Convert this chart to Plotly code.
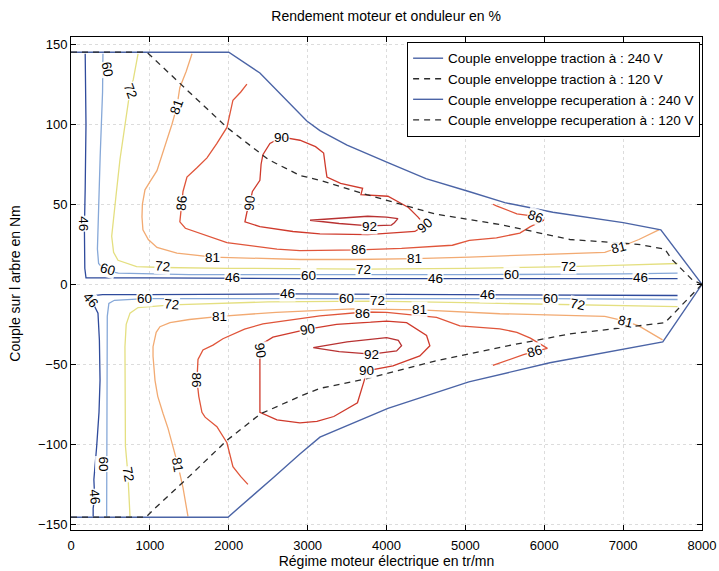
import plotly.graph_objects as go

# ---------------- text ----------------
TITLE = "Rendement moteur et onduleur en %"
X_TITLE = "Régime moteur électrique en tr/mn"
Y_TITLE = "Couple sur l arbre en Nm"
X_TICKS = [0, 1000, 2000, 3000, 4000, 5000, 6000, 7000, 8000]
Y_TICKS = [-150, -100, -50, 0, 50, 100, 150]

# ---------------- envelopes (rpm, Nm) ----------------
env_trac240_rpm = [0, 2000, 2395, 2814, 2990, 3156, 3500, 4018, 4500, 5044, 5500, 6109, 7000, 7478, 8000]
env_trac240_nm = [145, 145, 132, 111, 102, 96, 87, 76, 66, 58, 51, 45, 38.5, 34, 0]

env_trac120_rpm = [0, 963, 1500, 1977, 2500, 2902, 3156, 3750, 4613, 5475, 6324, 7186, 7530, 7617, 7883, 8000]
env_trac120_nm = [145, 145, 120, 98, 78, 68, 65, 56, 44, 37, 28, 25, 22, 15.6, 2.5, 0]

env_recup240_rpm = [0, 1990, 2560, 2902, 3156, 4018, 5044, 6071, 7503, 8000]
env_recup240_nm = [-145.5, -145.5, -121, -106, -95.5, -77.5, -61, -49, -36, 0]

env_recup120_rpm = [0, 950, 1040, 1500, 1977, 2400, 2902, 3156, 3750, 4613, 5475, 6324, 7186, 7530, 7744, 8000]
env_recup120_nm = [-145.5, -145.5, -141, -120, -97.5, -81, -70, -65, -59, -48, -39, -31, -26, -24, -13, 0]

# ---------------- iso-efficiency lines, traction side ----------------
iso46_t_rpm = [180, 190, 180, 170, 175, 190, 1000, 3000, 5000, 7690]
iso46_t_nm = [144, 100, 60, 35, 10, 4, 4, 3.5, 3.5, 3.5]

iso60_t_rpm = [405, 400, 370, 345, 335, 350, 420, 600, 1500, 3000, 5000, 7000, 7690]
iso60_t_nm = [144, 120, 80, 40, 22, 13, 9, 7, 6, 6, 6, 6.5, 7]

iso72_t_rpm = [850, 790, 748, 690, 621, 570, 535, 516, 540, 596, 832, 1166, 2000, 3714, 5000, 6312, 7000, 7690]
iso72_t_nm = [144, 128, 121, 100, 78, 55, 40, 30, 20, 15, 11, 10.5, 10, 9.5, 10, 11, 12, 13]

iso81_t_rpm = [1534, 1460, 1380, 1343, 1280, 1217, 1150, 1090, 1000, 938, 905, 900, 912, 980, 1090, 1343,
               1800, 2400, 2902, 3600, 4360, 5051, 6000, 6768, 6945, 7200, 7452]
iso81_t_nm = [144, 133, 123, 111, 100, 90, 80, 71, 64, 59, 50, 42, 34, 28, 23, 19.5,
              17, 16, 15.5, 15.5, 16, 17, 18.5, 20, 23, 28, 34]

iso86_t_rpm = [2230, 2150, 2053, 2010, 1977, 1850, 1724, 1600, 1470, 1420, 1407, 1390, 1380, 1450, 1635, 1977,
               2611, 2902, 3650, 4191, 4835, 5051, 5394, 5691, 5824, 5995, 5888, 5653, 5394, 5349]
iso86_t_nm = [125, 120, 115, 105, 98, 88, 79, 73, 67, 58, 51, 44, 39, 35, 32, 26,
              22, 21, 21.5, 22.5, 24.4, 27.5, 29, 32, 36, 40, 42.5, 44, 49, 50]

iso90_t_rpm = [2674, 2800, 2902, 3100, 3203, 3230, 3245, 3418, 3697, 3676, 4018, 4278, 4400, 4487, 4360, 3762,
               3156, 2814, 2395, 2205, 2230, 2269, 2300, 2395, 2410, 2433, 2522, 2674]
iso90_t_nm = [92, 91, 90, 86, 82, 72, 67, 63, 60, 56, 55, 48, 42, 37, 33, 31,
              31.5, 33, 36, 39, 45, 51, 58, 65, 75, 81, 88, 92]

iso92_t_rpm = [3030, 3400, 3762, 4000, 4145, 4100, 4062, 3783, 3400, 3030]
iso92_t_nm = [40, 41.5, 42.5, 42, 41, 38.5, 37, 36.5, 38, 40]

# ---------------- iso-efficiency lines, recuperation side ----------------
iso46_r_rpm = [281, 281, 300, 290, 326, 355, 368, 360, 342, 270, 241, 280, 400, 1000, 2750, 5285, 7690]
iso46_r_nm = [-145, -140, -133, -122, -101, -80, -60, -35, -18, -11, -9.7, -7, -6.5, -6.5, -6, -6.5, -7]

iso60_r_rpm = [452, 452, 455, 460, 480, 550, 938, 3494, 6081, 7690]
iso60_r_nm = [-145, -112, -60, -20, -12, -10, -9, -8.9, -9, -9.5]

iso72_r_rpm = [748, 722, 690, 684, 684, 700, 748, 850, 1276, 2500, 3830, 5000, 6426, 7690]
iso72_r_nm = [-145, -119, -101, -60, -39, -25, -18, -14.5, -12.8, -11, -10.5, -11.5, -12.8, -14]

iso81_r_rpm = [1483, 1420, 1356, 1293, 1230, 1166, 1100, 1065, 1040, 1040, 1080, 1128, 1255, 1500, 1888,
               2600, 3574, 4423, 5437, 6768, 7027, 7199, 7500]
iso81_r_nm = [-145, -127, -113, -101.6, -90, -80.6, -70, -60, -45, -39, -30, -26.5, -24, -22, -20,
              -17.5, -15.3, -16, -18.4, -20, -23, -26, -34.7]

iso86_r_rpm = [2243, 2150, 2053, 2010, 1977, 1850, 1700, 1660, 1620, 1597, 1610, 1673, 1800, 1926, 2200,
               2433, 3156, 3726, 4001, 4635, 4930, 5437, 5653, 5824, 6040, 5870, 5737, 5349]
iso86_r_nm = [-125, -120, -114, -105, -99, -89, -83, -80, -70, -60, -47, -41, -38, -34, -28,
              -24.7, -19.7, -17.3, -17.6, -20.7, -26, -27.8, -30, -33.6, -40, -42, -44, -50.6]

iso90_r_rpm = [3004, 3367, 4001, 4255, 4508, 4550, 4423, 4081, 3748, 3718, 3632, 3332, 3118, 2902, 2611,
               2395, 2395, 2395, 2395, 2430, 2560, 3004]
iso90_r_nm = [-28, -25, -23, -24, -32, -38.4, -44.7, -51, -54, -60, -74, -82.6, -85.7, -86.6, -84.7,
              -80, -60, -49, -41.6, -37, -33, -28]

iso92_r_rpm = [3071, 3500, 4001, 4150, 4191, 4128, 3811, 3400, 3071]
iso92_r_nm = [-39.5, -36, -33.3, -35, -38.4, -41.6, -43.6, -42, -39.5]

# ---------------- contour labels ----------------
label_text = ["46", "60", "72", "81", "86", "90", "90", "60", "72", "81", "46", "60", "92", "90", "86",
              "81", "72", "46", "60", "72", "86", "81", "46",
              "46", "60", "72", "81", "46", "60", "72", "86", "81", "90", "90", "92", "90", "46",
              "60", "72", "81", "86", "86", "60", "72", "81", "46"]
label_rpm = [156, 456, 750, 1343, 1407, 2269, 2674, 469, 1166, 1800, 2053, 3010, 3783, 4487, 3650,
             4360, 3714, 4621, 5590, 6312, 5888, 6945, 7220,
             241, 938, 1276, 1888, 2750, 3494, 3880, 3700, 4423, 3004, 2395, 3811, 3748, 5285,
             6081, 6426, 7027, 5870, 1597, 406, 722, 1356, 304]
label_nm = [38, 134, 121, 111, 51, 51, 92, 9, 11, 17, 4, 5.5, 36, 37, 22,
            16, 9.5, 3.5, 6, 11, 42.5, 23, 4,
            -9.7, -9, -12.8, -20, -6, -8.9, -10, -18.5, -16, -28, -41.6, -43.6, -54, -6.5,
            -9, -12.8, -23, -42, -60, -112, -119, -113, -133]
label_angle = [90, 80, 70, -70, -85, -85, 0, 15, 5, 0, 0, 0, 0, -40, 0,
               0, 0, 0, 0, 0, 20, -15, 0,
               50, 0, 5, 0, 0, 0, 0, 0, 0, -10, 80, 0, 0, 0,
               0, 10, 15, -15, 90, 90, 80, 80, 85]

LEVEL_COLORS = {"46": "#2f4b9c", "60": "#86a8d8", "72": "#e4df80", "81": "#f2aa72",
                "86": "#e0553a", "90": "#cf3a2c", "92": "#b83232"}

contours = [
    ("46", iso46_t_rpm, iso46_t_nm), ("46", iso46_r_rpm, iso46_r_nm),
    ("60", iso60_t_rpm, iso60_t_nm), ("60", iso60_r_rpm, iso60_r_nm),
    ("72", iso72_t_rpm, iso72_t_nm), ("72", iso72_r_rpm, iso72_r_nm),
    ("81", iso81_t_rpm, iso81_t_nm), ("81", iso81_r_rpm, iso81_r_nm),
    ("86", iso86_t_rpm, iso86_t_nm), ("86", iso86_r_rpm, iso86_r_nm),
    ("90", iso90_t_rpm, iso90_t_nm), ("90", iso90_r_rpm, iso90_r_nm),
    ("92", iso92_t_rpm, iso92_t_nm), ("92", iso92_r_rpm, iso92_r_nm),
]

FONT = "Liberation Sans, Arial, Helvetica, sans-serif"
ENV_BLUE = "#4b64a6"
DASH_COL = "#2b2b2b"

fig = go.Figure()
for lvl, xs, ys in contours:
    fig.add_trace(go.Scatter(x=xs, y=ys, mode="lines", showlegend=False, hoverinfo="skip",
                             line=dict(color=LEVEL_COLORS[lvl], width=1.3)))

fig.add_trace(go.Scatter(x=env_trac240_rpm, y=env_trac240_nm, mode="lines",
                         name="Couple enveloppe traction à : 240 V",
                         line=dict(color=ENV_BLUE, width=1.4)))
fig.add_trace(go.Scatter(x=env_trac120_rpm, y=env_trac120_nm, mode="lines",
                         name="Couple enveloppe traction à : 120 V",
                         line=dict(color=DASH_COL, width=1.3, dash="6px,5px")))
fig.add_trace(go.Scatter(x=env_recup240_rpm, y=env_recup240_nm, mode="lines",
                         name="Couple enveloppe recuperation à : 240 V",
                         line=dict(color=ENV_BLUE, width=1.4)))
fig.add_trace(go.Scatter(x=env_recup120_rpm, y=env_recup120_nm, mode="lines",
                         name="Couple enveloppe recuperation à : 120 V",
                         line=dict(color=DASH_COL, width=1.3, dash="6px,5px")))

for t, xr, yn, ang in zip(label_text, label_rpm, label_nm, label_angle):
    fig.add_annotation(x=xr, y=yn, text=t, showarrow=False, textangle=ang,
                       font=dict(family=FONT, size=13.5, color="black"),
                       bgcolor="rgba(255,255,255,0.9)", borderpad=0)

axis_common = dict(showline=True, linecolor="black", linewidth=1, mirror="allticks",
                   ticks="inside", ticklen=5, tickcolor="black",
                   showgrid=True, gridcolor="#dcdcdc", griddash="dot", gridwidth=1,
                   zeroline=False, automargin=False,
                   tickfont=dict(family=FONT, size=13, color="black"))

fig.update_layout(
    width=719, height=571,
    margin=dict(l=71, r=17, t=37, b=41),
    paper_bgcolor="white", plot_bgcolor="white",
    font=dict(family=FONT, size=13, color="black"),
    title=dict(text=TITLE, x=0.537, xanchor="center", y=1 - 16 / 571, yanchor="middle",
               yref="container", font=dict(family=FONT, size=14, color="black")),
    xaxis=dict(range=[0, 8000], tickvals=X_TICKS, ticklabelstandoff=3,
               title=dict(text=X_TITLE, standoff=2, font=dict(family=FONT, size=14)), **axis_common),
    yaxis=dict(range=[-153.5, 154.5], tickvals=Y_TICKS,
               title=dict(text=Y_TITLE, standoff=14, font=dict(family=FONT, size=14)), **axis_common),
    legend=dict(x=0.997, xanchor="right", y=0.99, yanchor="top", bgcolor="white",
                bordercolor="black", borderwidth=1, font=dict(family=FONT, size=13.5),
                traceorder="normal"),
    showlegend=True,
)

fig.write_html("out.html")
